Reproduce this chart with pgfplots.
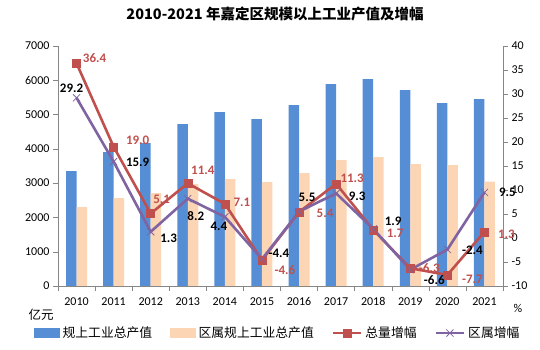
\documentclass[border=0pt]{standalone}
\usepackage{pgfplots}
\usepackage{pgfplotstable}
\pgfplotsset{compat=1.18}
\usepackage{fontspec}
\setmainfont{Carlito}
\newfontfamily\cjk{Noto Sans CJK SC}
\definecolor{cblue}{HTML}{558ED5}
\definecolor{cpeach}{HTML}{FCD5B5}
\definecolor{cred}{HTML}{C0504D}
\definecolor{cpurp}{HTML}{8064A2}
\definecolor{caxis}{HTML}{868686}

\pgfplotstableread{
x blue peach
0 3353 2303
1 3907 2566
2 4169 2710
3 4723 2974
4 5073 3120
5 4869 3032
6 5277 3294
7 5890 3673
8 6035 3761
9 5714 3557
10 5335 3528
11 5452 3041
}\bars

\pgfplotstableread{
x y lab dx dy
0 36.4 36.4 18 5
1 19.0 19.0 24 7
2 5.1 5.1 11 14
3 11.4 11.4 15 13
4 7.1 7.1 17 2
5 -4.6 -4.6 23 -10
6 5.4 5.4 26 -1
7 11.3 11.3 16 5
8 1.7 1.7 22 -3
9 -6.3 -6.3 19 0
10 -7.7 -7.7 25 -4
11 1.3 1.3 22 -3
}\redtab

\pgfplotstableread{
x y lab dx dy
0 29.2 29.2 -5 10
1 15.9 15.9 24 -1
2 1.3 1.3 18 -7
3 8.2 8.2 8 -17
4 4.4 4.4 -6 -9
5 -4.4 -4.4 17 6
6 5.5 5.5 8 14
7 9.3 9.3 21 -3
8 1.9 1.9 20 8
9 -6.6 -6.6 24 -10
10 -2.4 -2.4 25 -1
11 9.5 9.5 23 0
}\purtab

\begin{document}
\begin{tikzpicture}
\path[use as bounding box] (0,0) rectangle (540pt,350pt);
\node[font=\cjk\bfseries\fontsize{14.5}{16}\selectfont] at (275pt,336pt) {2010-2021 年嘉定区规模以上工业产值及增幅};
\node[font=\cjk\fontsize{12.5}{14}\selectfont] at (41pt,35pt) {亿元};
\node[font=\fontsize{12}{14}\selectfont] at (518pt,42pt) {\%};

\begin{axis}[
  at={(58pt,64pt)}, anchor=south west,
  scale only axis, width=445pt, height=240pt,
  xmin=-0.5, xmax=11.5, ymin=0, ymax=7000,
  axis x line*=bottom, axis y line*=left,
  axis line style={draw=caxis,-},
  every tick/.style={draw=caxis},
  tick align=outside,
  major tick length=5pt, minor tick length=5pt,
  ytick={0,1000,...,7000},
  xtick={0,...,11},
  xticklabels={2010,2011,2012,2013,2014,2015,2016,2017,2018,2019,2020,2021},
  major x tick style={draw=none},
  minor xtick={-0.5,0.5,...,11.5},
  ticklabel style={font=\fontsize{12}{14}\selectfont},
  xticklabel style={yshift=-3pt},
  /pgf/number format/assume math mode=true,
  /pgf/number format/1000 sep={},
  ybar=0pt, bar width=10.5pt,
]
\addplot[fill=cblue, draw=none] table[x=x,y=blue] {\bars};
\addplot[fill=cpeach, draw=none] table[x=x,y=peach] {\bars};
\end{axis}

\begin{axis}[
  at={(58pt,64pt)}, anchor=south west,
  scale only axis, width=445pt, height=240pt,
  xmin=-0.5, xmax=11.5, ymin=-10, ymax=40,
  axis x line=none, axis y line*=right,
  axis line style={draw=caxis,-},
  every tick/.style={draw=caxis},
  tick align=outside, major tick length=5pt,
  ytick={-10,-5,...,40},
  ticklabel style={font=\fontsize{12}{14}\selectfont},
  /pgf/number format/assume math mode=true,
  clip=false,
  legend columns=4,
  legend style={at={(0.494,-0.196)}, anchor=center, draw=none, fill=none,
    font=\cjk\fontsize{12.8}{14}\selectfont,
    /tikz/every even column/.append style={column sep=16pt},
    /tikz/every odd column/.append style={column sep=1pt}},
  legend image code/.code={\draw[mark repeat=2,mark phase=2,#1] plot coordinates {(0pt,0pt) (14pt,0pt) (28pt,0pt)};},
]
\addlegendimage{legend image code/.code={\fill[cblue] (0pt,-4.5pt) rectangle (25pt,4.5pt);}}
\addlegendentry{规上工业总产值}
\addlegendimage{legend image code/.code={\fill[cpeach] (0pt,-4.5pt) rectangle (25pt,4.5pt);}}
\addlegendentry{区属规上工业总产值}
\addplot[cred, line width=2.6pt, mark=square*, mark size=4pt, mark options={line width=0.5pt}]
  table[x=x,y=y] {\redtab};
\addlegendentry{总量增幅}
\addplot[cpurp, line width=2.6pt, mark=x, mark size=5pt, mark options={line width=0.8pt}]
  table[x=x,y=y] {\purtab};
\addlegendentry{区属增幅}
\addplot[forget plot, draw=none, mark=none,
  point meta=explicit symbolic,
  nodes near coords,
  nodes near coords style={anchor=center, text=cred, font=\bfseries\fontsize{13}{15}\selectfont}]
  table[x expr=\thisrow{x}+\thisrow{dx}/37.083, y expr=\thisrow{y}+\thisrow{dy}/4.8, meta=lab] {\redtab};
\addplot[forget plot, draw=none, mark=none,
  point meta=explicit symbolic,
  nodes near coords,
  nodes near coords style={anchor=center, text=black, font=\bfseries\fontsize{13}{15}\selectfont}]
  table[x expr=\thisrow{x}+\thisrow{dx}/37.083, y expr=\thisrow{y}+\thisrow{dy}/4.8, meta=lab] {\purtab};
\end{axis}
\end{tikzpicture}
\end{document}
